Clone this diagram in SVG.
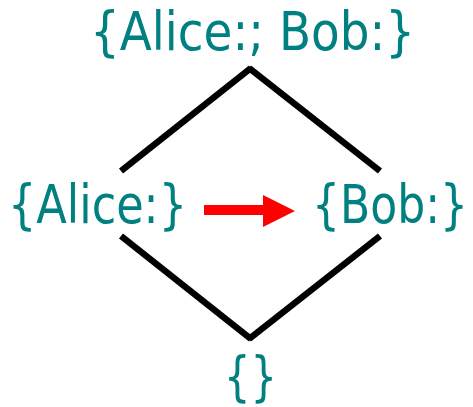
<svg xmlns="http://www.w3.org/2000/svg" width="473" height="407" viewBox="0 0 473 407">
<style>
.lbl{font-family:"DejaVu Sans Condensed","DejaVu Sans",sans-serif;font-size:53px;fill:#008080}
.edge{stroke:#000;stroke-width:6.5;fill:none}
</style>
<rect width="473" height="407" fill="#fff"/>
<g id="connectors">
<line class="edge" x1="121" y1="171" x2="251" y2="68"/>
<line class="edge" x1="249" y1="68" x2="380" y2="171"/>
<line class="edge" x1="121" y1="236" x2="251" y2="339"/>
<line class="edge" x1="249" y1="339" x2="380" y2="236"/>
<g id="arrow">
<rect x="204" y="205" width="60" height="10" fill="#f00"/>
<polygon points="263,195 295,211 263,227" fill="#f00"/>
</g>
</g>
<g id="top"><text class="lbl" x="90" y="50" textLength="325" lengthAdjust="spacingAndGlyphs">{Alice:; Bob:}</text></g>
<g id="alice"><text class="lbl" x="8" y="223" textLength="179" lengthAdjust="spacingAndGlyphs">{Alice:}</text></g>
<g id="bob"><text class="lbl" x="312" y="223" textLength="156" lengthAdjust="spacingAndGlyphs">{Bob:}</text></g>
<g id="empty"><text class="lbl" x="224" y="395" textLength="53" lengthAdjust="spacingAndGlyphs">{}</text></g>
</svg>
